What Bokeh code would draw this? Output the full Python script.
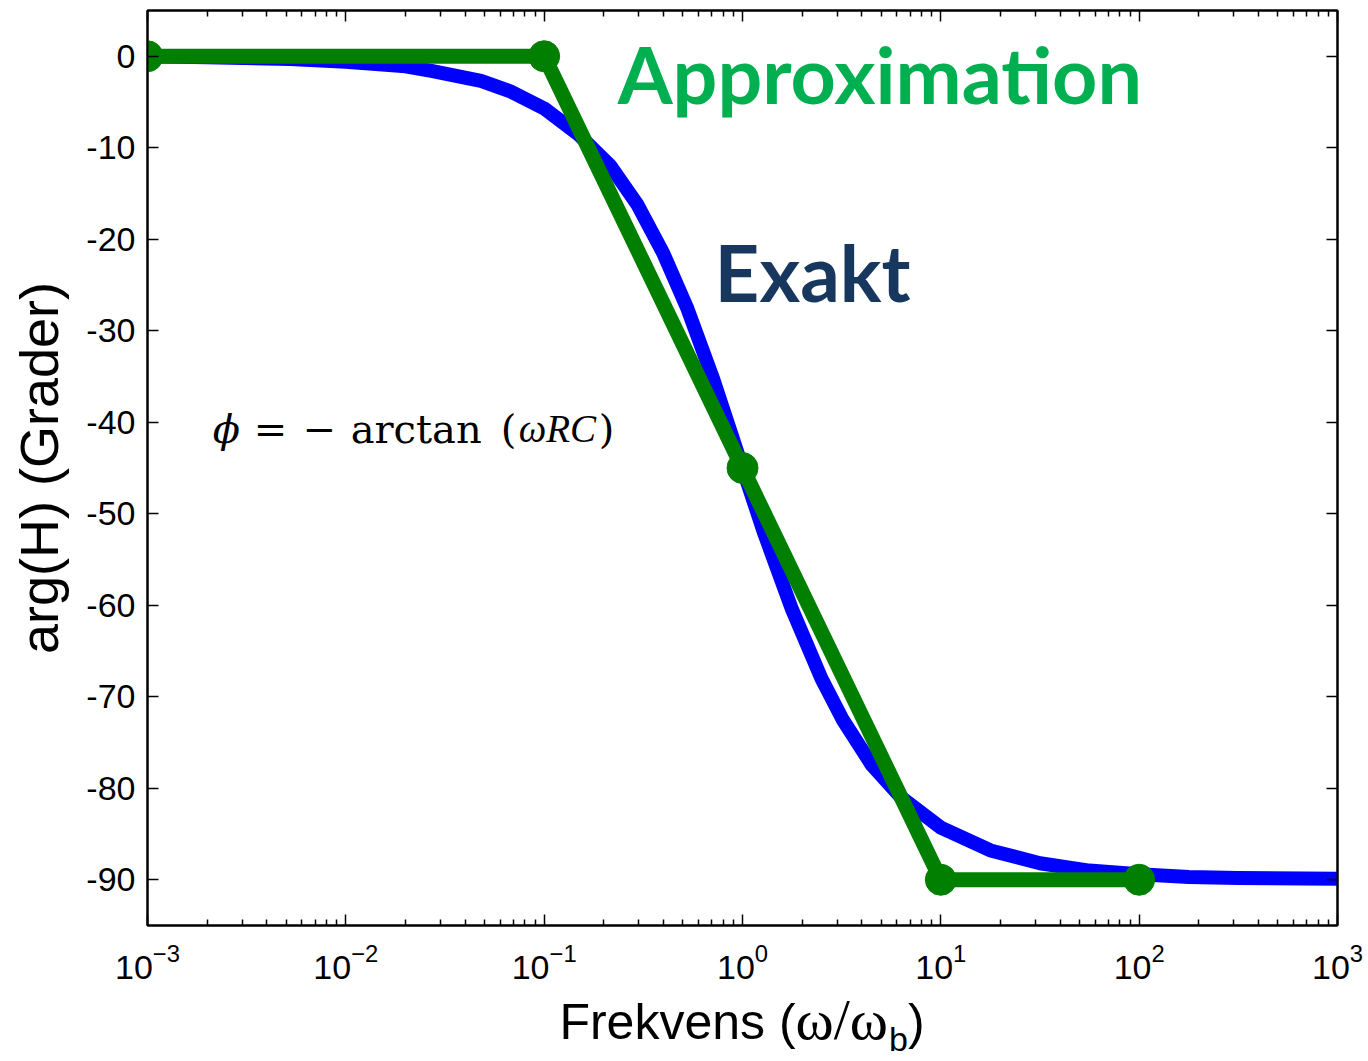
from bokeh.plotting import figure
from bokeh.models import (LogAxis, LinearAxis, FixedTicker, Label, Div,
                          CustomJSTickFormatter)
from bokeh.layouts import column
from bokeh.embed import file_html
from bokeh.resources import INLINE

# ---------------- data ----------------
# exact phase curve
exact_freq = [0.001, 0.002, 0.00525, 0.01, 0.02, 0.027, 0.048, 0.067, 0.1,
              0.15, 0.216, 0.295, 0.398, 0.528, 0.71, 1.0, 1.28, 1.78, 2.5,
              3.2, 4.5, 6.3, 10.0, 17.8, 31.6, 56.0, 100.0, 178.0, 316.0, 1000.0]
exact_phase = [0.0, -0.1, -0.3, -0.6, -1.1, -1.6, -2.7, -3.8, -5.7,
               -8.6, -12.0, -16.2, -21.5, -27.6, -35.2, -45.0, -52.0, -60.5, -68.0,
               -72.5, -77.5, -81.0, -84.3, -86.8, -88.2, -89.0, -89.4, -89.7, -89.8, -89.9]

# straight-line (asymptotic) approximation
approx_freq = [0.001, 0.1, 1.0, 10.0, 100.0]
approx_phase = [0.0, 0.0, -45.0, -90.0, -90.0]

x_ticks = [1e-3, 1e-2, 1e-1, 1e0, 1e1, 1e2, 1e3]
y_ticks = [-90, -80, -70, -60, -50, -40, -30, -20, -10, 0]
y_tick_labels = ["-90", "-80", "-70", "-60", "-50", "-40", "-30", "-20", "-10", "0"]
x_minor = [t * k for t in x_ticks[:-1] for k in range(2, 10)]

x_label_main = "Frekvens ("
x_label_omega = "ω/ω"
x_label_sub = "b"
y_label = "arg(H) (Grader)"
label_approx = "Approximation"
label_exact = "Exakt"

# ---------------- figure ----------------
p = figure(width=1368, height=991, x_axis_type="log",
           x_range=(1e-3, 1e3), y_range=(-95, 5),
           output_backend="svg", toolbar_location=None,
           min_border_left=147, min_border_right=31,
           min_border_top=10, min_border_bottom=66)
p.grid.visible = False
p.outline_line_color = "black"
p.outline_line_width = 2
p.background_fill_color = "white"
p.border_fill_color = "white"

xt = FixedTicker(ticks=x_ticks, minor_ticks=x_minor)
yt = FixedTicker(ticks=y_ticks, minor_ticks=[])

FONT = "Liberation Sans"

def style_axis(ax, show_labels):
    ax.axis_line_width = 2
    ax.axis_line_color = "black"
    ax.major_tick_in = 11
    ax.major_tick_out = 0
    ax.minor_tick_in = 6
    ax.minor_tick_out = 0
    ax.major_tick_line_color = "black"
    ax.minor_tick_line_color = "black"
    ax.major_tick_line_width = 1.5
    ax.minor_tick_line_width = 1.5
    if show_labels:
        ax.major_label_text_font = FONT
        ax.major_label_text_font_size = "34px"
        ax.major_label_text_color = "black"
    else:
        ax.formatter = CustomJSTickFormatter(code="return ''")
        ax.major_label_standoff = 0
        ax.major_label_text_font_size = "1px"

xa = p.xaxis[0]
xa.ticker = xt
style_axis(xa, True)
xa.major_label_standoff = 18

ya = p.yaxis[0]
ya.ticker = yt
style_axis(ya, True)
ya.major_label_overrides = {t: s for t, s in zip(y_ticks, y_tick_labels)}
ya.major_label_standoff = 12
ya.axis_label = y_label
ya.axis_label_text_font = FONT
ya.axis_label_text_font_size = "54px"
ya.axis_label_text_font_style = "normal"
ya.axis_label_text_color = "black"
ya.axis_label_standoff = 14

top = LogAxis(ticker=xt)
style_axis(top, False)
p.add_layout(top, "above")
right = LinearAxis(ticker=yt)
style_axis(right, False)
p.add_layout(right, "right")

# ---------------- lines ----------------
p.line(exact_freq, exact_phase, line_width=14, line_color="#0000FF",
       line_join="round")
p.line(approx_freq, approx_phase, line_width=15, line_color="#007F00",
       line_join="round")
p.scatter(approx_freq, approx_phase, size=31, fill_color="#007F00",
          line_color="#007F00")

# ---------------- annotations ----------------
p.add_layout(Label(x=0.235, y=-1.9, text=label_approx,
                   text_font="Lato", text_font_style="bold",
                   text_font_size="79px", text_color="#00B050",
                   text_baseline="middle", text_align="left"))
p.add_layout(Label(x=0.723, y=-23.6, text=label_exact,
                   text_font="Lato", text_font_style="bold",
                   text_font_size="78px", text_color="#17375E",
                   text_baseline="middle", text_align="left"))

# formula  phi = -arctan(omega R C)
fx, fy = 0.00213, -40.7
formula_parts = [("ϕ", 0, "italic", "DejaVu Serif", "40px"),
                 ("=", 41, "normal", "DejaVu Serif", "40px"),
                 ("−", 90, "normal", "DejaVu Serif", "40px"),
                 ("arctan", 138, "normal", "DejaVu Serif", "40px"),
                 ("(", 288, "normal", "DejaVu Serif", "40px"),
                 ("ωRC", 306, "italic", "Liberation Serif", "39px"),
                 (")", 386, "normal", "DejaVu Serif", "40px")]
for txt, off, sty, fnt, fs in formula_parts:
    p.add_layout(Label(x=fx, y=fy, x_offset=off, text=txt,
                       text_font=fnt, text_font_style=sty,
                       text_font_size=fs, text_color="black",
                       text_baseline="middle", text_align="left"))

# x axis label (with subscript) as real HTML text below the plot
xlabel_html = (
    '<div style="margin-left:147px;width:1190px;text-align:center;'
    "font-family:'Liberation Sans';font-size:50px;line-height:50px;"
    'padding-top:4px;color:black;white-space:nowrap">'
    + x_label_main
    + "<span style=\"font-family:'Liberation Serif';font-size:58px\">"
    + x_label_omega + "</span>"
    + '<span style="font-size:34px;line-height:34px;position:relative;top:12px;margin-left:1px">'
    + x_label_sub + "</span>"
    + ")</div>"
)
xlabel = Div(text=xlabel_html, width=1368, height=68, margin=0)

layout = column(p, xlabel, spacing=0)

open("out.html", "w").write(file_html(layout, INLINE))
